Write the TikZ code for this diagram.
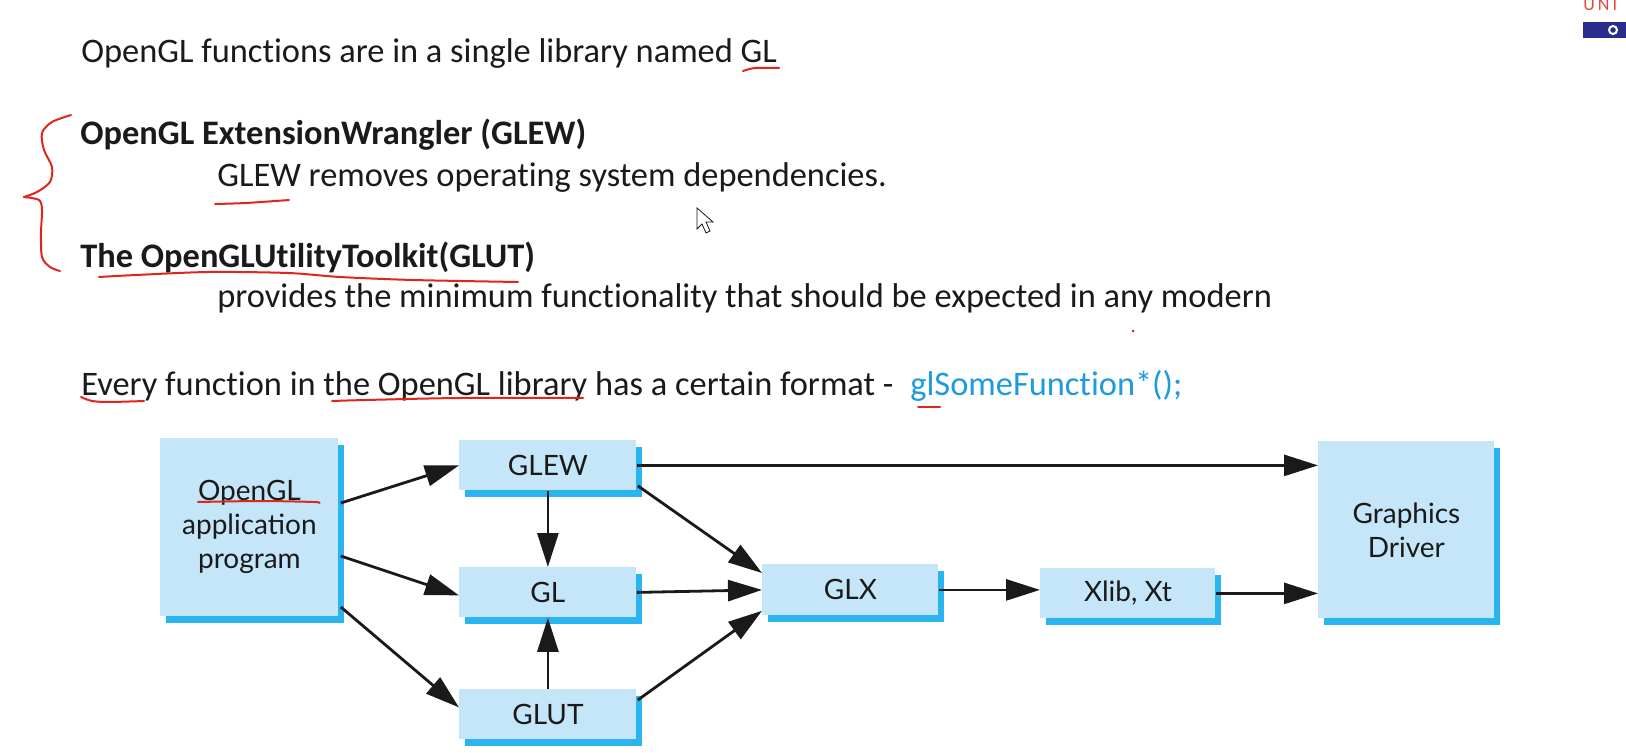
\documentclass[tikz,border=0pt]{standalone}
\usepackage{fontspec}
\setmainfont{Carlito}[Ligatures=NoCommon]
\newfontfamily\figfont{Lato}
\usetikzlibrary{arrows.meta,calc,shadows}
\definecolor{SlideText}{HTML}{1A1A1A}
\definecolor{SlideBlue}{HTML}{1E9AE0}
\definecolor{InkRed}{HTML}{E0261B}
\definecolor{BoxFill}{HTML}{C4E6F8}
\definecolor{BoxShadow}{HTML}{2AB4F0}
\definecolor{LogoNavy}{HTML}{2B2D8C}
\definecolor{LogoRed}{HTML}{E04A3C}

\tikzset{
  slide/.style={anchor=base west,inner sep=0pt,text=SlideText,font=\fontsize{17.2}{20}\selectfont},
  stage/.style={anchor=north west,inner sep=0pt,fill=BoxFill,align=center,text=SlideText,
    font=\figfont\fontsize{14}{17}\selectfont,
    drop shadow={shadow xshift=3pt,shadow yshift=-3.5pt,fill=BoxShadow,opacity=1}},
  flow/.style={-{Triangle[length=17pt,width=10.5pt]},line width=1.4pt,draw=SlideText},
  ink/.style={InkRed,line width=1pt,line cap=round,line join=round},
}

\begin{document}
\begin{tikzpicture}[x=0.5pt,y=-0.5pt]
  \useasboundingbox[fill=white] (0,0) rectangle (1626,753);
  % slide text
  \node[slide] (l1) at (81,63) {OpenGL functions are in a single library named GL};
  \node[slide,font=\fontsize{17.2}{20}\selectfont\bfseries] (l2) at (80,145) {OpenGL ExtensionWrangler (GLEW)};
  \node[slide] (l3) at (217,187) {GLEW removes operating system dependencies.};
  \node[slide,font=\fontsize{17.2}{20}\selectfont\bfseries] (l4) at (80,268) {The OpenGLUtilityToolkit(GLUT)};
  \node[slide] (l5) at (217,308) {provides the minimum functionality that should be expected in any modern};
  \node[slide] (l6) at (81,395) {Every function in the OpenGL library has a certain format -};
  \node[slide,text=SlideBlue] (fmt) at (910,395) {glSomeFunction*();};

  % logo corner
  \node[anchor=base west,inner sep=0pt,text=LogoRed,font=\fontsize{9}{9}\selectfont] (uni) at (1583,11) {U\,N\,I};
  \fill[LogoNavy] (1583,22) rectangle (1626,38);
  \draw[white,line width=1pt] (1613,30) circle (4);

  % mouse pointer
  \filldraw[fill=white,draw=SlideText,line width=0.4pt]
    (697,208) -- (697,229) -- (702,224) -- (706,233) -- (710,231) -- (706,222) -- (713,222) -- cycle;

  % diagram
  \node[stage,minimum width=89pt,minimum height=89pt] (app) at (160,438) {OpenGL\\application\\program};
  \node[stage,minimum width=88.5pt,minimum height=25pt] (glew) at (459,440) {GLEW};
  \node[stage,minimum width=88.5pt,minimum height=25pt] (gl) at (459,567) {GL};
  \node[stage,minimum width=88.5pt,minimum height=25pt] (glut) at (459,689) {GLUT};
  \node[stage,minimum width=88pt,minimum height=25.5pt] (glx) at (762,564) {GLX};
  \node[stage,minimum width=87.5pt,minimum height=25pt] (xlib) at (1040,568) {Xlib, Xt};
  \node[stage,minimum width=88pt,minimum height=88.5pt] (gd) at (1318,441) {Graphics\\Driver};

  \draw[flow] ($(app.north east)+(2,65)$) -- (glew.west);
  \draw[flow] ($(app.north east)+(2,118)$) -- ($(gl.west)+(0,3)$);
  \draw[flow] ($(app.north east)+(2,169)$) -- ($(glut.west)+(0,-7)$);
  \draw[flow] (glew.south) -- (gl.north);
  \draw[flow] (glut.north) -- (gl.south);
  \draw[flow] ($(glew.south east)+(1,-5)$) -- ($(glx.north west)+(0,9)$);
  \draw[flow] (gl.east) -- (glx.west);
  \draw[flow] ($(glut.north east)+(1,11)$) -- ($(glx.south west)+(0,-5)$);
  \draw[flow] (glew.east) -- (glew.east -| gd.west);
  \draw[flow] (glx.east) -- (glx.east -| xlib.west);
  \draw[flow] (xlib.east) -- (xlib.east -| gd.west);

  % red pen marks
  \draw[ink] plot[smooth] coordinates {(743,71) (755,68) (779,68)};
  \draw[ink] plot[smooth] coordinates {(71,115) (52,122) (42,133) (44,150) (52,167) (50,182) (37,192) (24,197)};
  \draw[ink] plot[smooth] coordinates {(24,197) (39,200) (42,210) (41,233) (42,257) (50,267) (60,271)};
  \draw[ink] plot[smooth] coordinates {(215,204) (246,203) (289,200)};
  \draw[ink] plot[smooth] coordinates {(99,277) (136,275) (209,272) (288,273) (340,277) (413,280) (518,282)};
  \draw[ink] plot[smooth] coordinates {(81,397) (92,401) (110,402) (144,401)};
  \draw[ink] plot[smooth] coordinates {(332,401) (366,400) (460,398) (583,398)};
  \draw[ink] (918,407) -- (940,407);
  \draw[ink] plot[smooth] coordinates {(198,502) (261,501) (314,502) (319,503)};
  \fill[InkRed] (1133,331) circle (1.5);
\end{tikzpicture}
\end{document}
